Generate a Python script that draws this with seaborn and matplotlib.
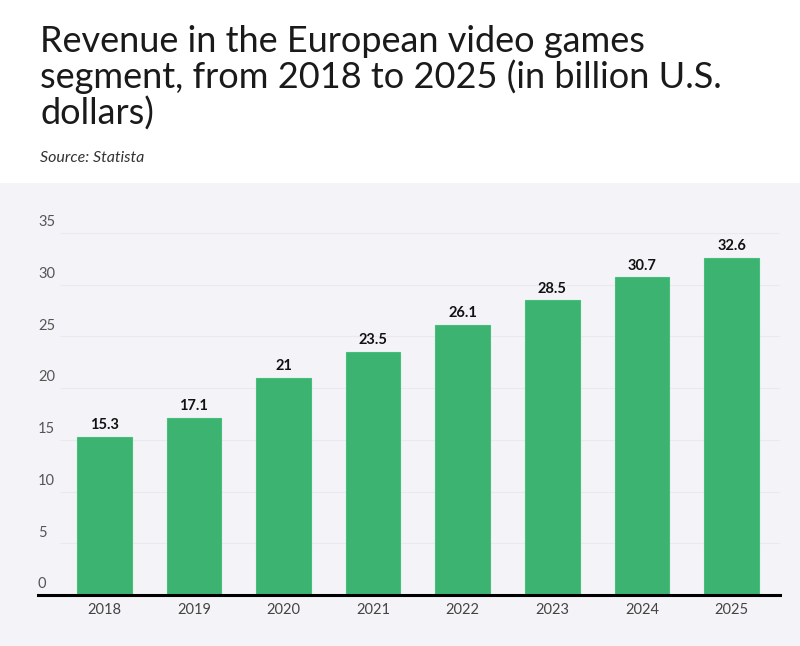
import matplotlib
matplotlib.use("Agg")
import matplotlib.pyplot as plt
import seaborn as sns
import pandas as pd
from matplotlib.patches import Rectangle

years = ["2018", "2019", "2020", "2021", "2022", "2023", "2024", "2025"]
revenue = [15.3, 17.1, 21, 23.5, 26.1, 28.5, 30.7, 32.6]
value_labels = ["15.3", "17.1", "21", "23.5", "26.1", "28.5", "30.7", "32.6"]
y_ticks = [0, 5, 10, 15, 20, 25, 30, 35]

df = pd.DataFrame({"year": years, "revenue": revenue})

sns.set_theme(style="white")
plt.rcParams["font.family"] = ["Lato", "DejaVu Sans"]

fig = plt.figure(figsize=(8, 6.46), dpi=100)
fig.patch.set_facecolor("white")
panel_color = "#f4f3f7"
fig.patches.append(Rectangle((0, 0), 1, 0.7167, transform=fig.transFigure,
                             facecolor=panel_color, edgecolor="none", zorder=-10))

ax = fig.add_axes([0.0475, 0.079, 0.9275, 0.5604])
ax.set_zorder(1)
ax.set_facecolor("none")
sns.barplot(data=df, x="year", y="revenue", ax=ax, color="#3cb371",
            width=0.61, saturation=1, edgecolor="#45c07a", linewidth=0.8, zorder=3)

ax.set_xlim(-0.74, 7.54)
ax.set_ylim(0, 35)
ax.set_xlabel("")
ax.set_ylabel("")
for sp in ["top", "right", "left"]:
    ax.spines[sp].set_visible(False)
ax.spines["bottom"].set_color("black")
ax.spines["bottom"].set_linewidth(2.2)
ax.spines["bottom"].set_zorder(5)

# gridlines
for t in y_ticks[1:]:
    ax.axhline(t, xmin=0.03, xmax=1.0, color="#eae9ee", linewidth=0.8, zorder=1)

ax.set_yticks(y_ticks)
ax.set_yticklabels([])
ax.tick_params(axis="y", length=0)
for t in y_ticks:
    ax.text(0.0, t + 0.35, str(t), transform=ax.get_yaxis_transform(),
            ha="left", va="bottom", fontsize=10.5, color="#555555")

ax.tick_params(axis="x", length=0, pad=6, labelsize=10.5, labelcolor="#444444")

for i, (v, lab) in enumerate(zip(revenue, value_labels)):
    ax.text(i, v + 0.45, lab, ha="center", va="bottom", fontsize=10.5,
            fontweight="bold", color="#111111", zorder=6)

fig.text(0.05, 0.962, "Revenue in the European video games\nsegment, from 2018 to 2025 (in billion U.S.\ndollars)",
         ha="left", va="top", fontsize=26, color="#1a1a1a",
         linespacing=1.08)
fig.text(0.05, 0.756, "Source: Statista", ha="left", va="center", fontsize=11.5,
         color="#333333", style="italic")

fig.savefig("out.png", dpi=100, facecolor=fig.get_facecolor())
